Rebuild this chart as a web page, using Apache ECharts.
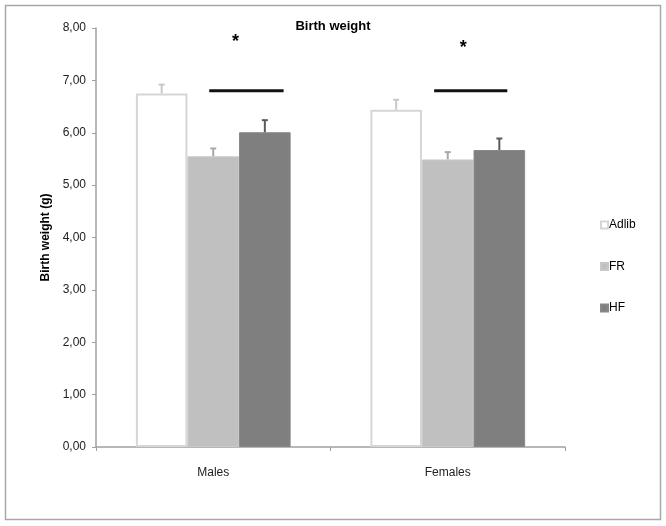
<!DOCTYPE html>
<html><head><meta charset="utf-8">
<script src="https://cdn.jsdelivr.net/npm/echarts@6/dist/echarts.min.js"></script>
<style>html,body{margin:0;padding:0;background:#fff}#c{width:666px;height:526px}</style>
</head><body><div id="c"></div>
<script>
var categories = ['Males', 'Females'];
var seriesNames = ['Adlib', 'FR', 'HF'];
var adlib = [6.75, 6.44];
var fr = [5.55, 5.49];
var hf = [6.01, 5.67];
var adlibErr = [0.17, 0.19];
var frErr = [0.15, 0.14];
var hfErr = [0.23, 0.22];
var sigLineY = [6.8, 6.8];
var sigLineFrom = [-0.017, -0.058];
var sigLineTo = [0.30, 0.254];
var starY = [7.74, 7.62];
var starX = [0.095, 0.066];
var yTicks = [0, 1, 2, 3, 4, 5, 6, 7, 8];

var FONT = 'Liberation Sans, Arial, sans-serif';
var chart = echarts.init(document.getElementById('c'));
var BW = 0.22;

function errSeries(vals, errs, idx, color) {
  var data = vals.map(function (v, i) { return [i, v, errs[i]]; });
  return {
    type: 'custom', name: seriesNames[idx] + ' err', silent: true, z: 5,
    data: data,
    renderItem: function (params, api) {
      var band = api.size([1, 0])[0];
      var c0 = api.coord([api.value(0), api.value(1)]);
      var c1 = api.coord([api.value(0), api.value(1) + api.value(2)]);
      var x = c0[0] + (idx - 1) * BW * band;
      return {
        type: 'group', children: [
          { type: 'line', shape: { x1: x, y1: c0[1], x2: x, y2: c1[1] }, style: { stroke: color, lineWidth: 2 } },
          { type: 'line', shape: { x1: x - 3, y1: c1[1], x2: x + 3, y2: c1[1] }, style: { stroke: color, lineWidth: 2 } }
        ]
      };
    }
  };
}

chart.setOption({
  animation: false,
  backgroundColor: '#fff',
  title: { text: 'Birth weight', left: 'center', top: 15, textStyle: { fontFamily: FONT, fontSize: 13, fontWeight: 'bold', color: '#000' } },
  grid: { left: 96, right: 101, top: 28, bottom: 79 },
  legend: {
    orient: 'vertical', left: 595, top: 214, itemWidth: 7, itemHeight: 7, itemGap: 29.5,
    icon: 'rect', data: seriesNames,
    textStyle: { fontFamily: FONT, fontSize: 12, color: '#000', padding: [0, 0, 0, -4] }
  },
  xAxis: {
    type: 'category', data: categories,
    axisLine: { lineStyle: { color: '#a0a0a0', width: 1.5 } },
    axisTick: { show: true, length: 4, lineStyle: { color: '#a0a0a0' } },
    axisLabel: { fontFamily: FONT, fontSize: 12, color: '#222', margin: 20 }
  },
  yAxis: {
    type: 'value', min: 0, max: 8, interval: 1,
    name: 'Birth weight (g)', nameLocation: 'middle', nameGap: 44,
    nameTextStyle: { fontFamily: FONT, fontSize: 12, fontWeight: 'bold', color: '#000' },
    axisLine: { show: true, lineStyle: { color: '#a0a0a0', width: 1.5 } },
    axisTick: { show: true, length: 4, lineStyle: { color: '#a0a0a0' } },
    splitLine: { show: false },
    axisLabel: { fontFamily: FONT, fontSize: 12, color: '#222', margin: 10,
      formatter: function (v) { return v.toFixed(2).replace('.', ','); } }
  },
  series: [
    { type: 'bar', name: 'Adlib', data: adlib, barWidth: '22%', barGap: '0%',
      itemStyle: { color: '#ffffff', borderColor: '#d6d6d6', borderWidth: 2 } },
    { type: 'bar', name: 'FR', data: fr, barWidth: '22%', barGap: '0%',
      itemStyle: { color: '#c0c0c0', borderColor: '#c8c8c8', borderWidth: 1 } },
    { type: 'bar', name: 'HF', data: hf, barWidth: '22%', barGap: '0%',
      itemStyle: { color: '#7f7f7f', borderColor: '#888888', borderWidth: 1 } },
    errSeries(adlib, adlibErr, 0, '#c8c8c8'),
    errSeries(fr, frErr, 1, '#a8a8a8'),
    errSeries(hf, hfErr, 2, '#5a5a5a'),
    {
      type: 'custom', name: 'sig', silent: true, z: 6,
      data: categories.map(function (c, i) { return [i, sigLineY[i], starY[i], sigLineFrom[i], sigLineTo[i], starX[i]]; }),
      renderItem: function (params, api) {
        var band = api.size([1, 0])[0];
        var cl = api.coord([api.value(0), api.value(1)]);
        var cs = api.coord([api.value(0), api.value(2)]);
        return {
          type: 'group', children: [
            { type: 'line', shape: { x1: cl[0] + api.value(3) * band, y1: cl[1], x2: cl[0] + api.value(4) * band, y2: cl[1] }, style: { stroke: '#111', lineWidth: 3 } },
            { type: 'text', style: { text: '*', x: cs[0] + api.value(5) * band, y: cs[1], align: 'center', verticalAlign: 'middle', fontFamily: FONT, fontSize: 18, fontWeight: 'bold', fill: '#000' } }
          ]
        };
      }
    }
  ],
  graphic: [{ type: 'rect', shape: { x: 5.5, y: 5.5, width: 655, height: 514 }, style: { fill: 'none', stroke: '#a8a8a8', lineWidth: 1.5 }, silent: true }]
});
</script></body></html>
